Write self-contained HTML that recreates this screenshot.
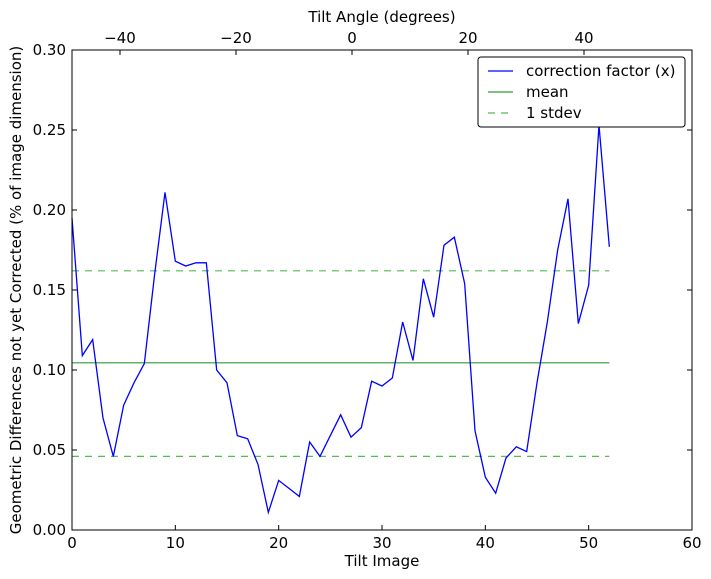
<!DOCTYPE html>
<html><head><meta charset="utf-8"><style>
body{margin:0;background:#fff}
svg{display:block;font-family:"DejaVu Sans","Liberation Sans",sans-serif}
</style></head><body>
<svg id="chart" width="711" height="579"></svg>
<script>
const xTicks=[0,10,20,30,40,50,60];
const yTicks=[0.00,0.05,0.10,0.15,0.20,0.25,0.30];
const topTicks=[-40,-20,0,20,40];
const values=[0.195,0.109,0.119,0.070,0.046,0.078,0.092,0.104,0.160,0.211,0.168,0.165,0.167,0.167,0.100,0.092,0.059,0.057,0.041,0.011,0.031,0.026,0.021,0.055,0.046,0.059,0.072,0.058,0.064,0.093,0.090,0.095,0.130,0.106,0.157,0.133,0.178,0.183,0.154,0.062,0.033,0.023,0.045,0.052,0.049,0.092,0.130,0.175,0.207,0.129,0.153,0.253,0.177];
const meanVal=[0.1045];
const stdevVals=[0.046,0.162];
const L=72,R=692,T=50,B=530;
const x=v=>L+(v-0)/60*(R-L);
const y=v=>B-(v/0.3)*(B-T);
const xa=d=>352+d*5.8;
const svg=document.getElementById('chart');
const NS='http://www.w3.org/2000/svg';
function mk(tag,attrs,txt){const e=document.createElementNS(NS,tag);for(const k in attrs)e.setAttribute(k,attrs[k]);if(txt!==undefined)e.textContent=txt;svg.appendChild(e);return e;}
let e;
e=mk('rect',{x:L,y:T,width:R-L,height:B-T,fill:'#fff',stroke:'none'});


stdevVals.forEach(v=>{e=mk('line',{x1:x(0),x2:x(values.length-1),y1:y(v),y2:y(v),stroke:'#55bb55','stroke-width':1.2,'stroke-dasharray':'7,6'});

});
e=mk('line',{x1:x(0),x2:x(values.length-1),y1:y(meanVal[0]),y2:y(meanVal[0]),stroke:'#339933','stroke-width':1.2});


e=mk('polyline',{points:values.map((v,i)=>x(i)+','+y(v)).join(' '),fill:'none',stroke:'#0000ff','stroke-width':1.3});


e=mk('rect',{x:L,y:T,width:R-L,height:B-T,fill:'none',stroke:'#000','stroke-width':1});


xTicks.forEach(t=>{const px=x(t);mk('line',{x1:px,x2:px,y1:B,y2:B-5,stroke:'#000'});
e=mk('text',{x:px,y:B+18,'font-size':15,'text-anchor':'middle'},String(t));

});
yTicks.forEach(t=>{const py=y(t);mk('line',{x1:L,x2:L+5,y1:py,y2:py,stroke:'#000'});mk('line',{x1:R,x2:R-5,y1:py,y2:py,stroke:'#000'});
e=mk('text',{x:L-6,y:py+5,'font-size':15,'text-anchor':'end'},t.toFixed(2));

});
topTicks.forEach(t=>{const px=xa(t);mk('line',{x1:px,x2:px,y1:T,y2:T+5,stroke:'#000'});
e=mk('text',{x:px,y:T-7,'font-size':15,'text-anchor':'middle'},String(t).replace('-','\u2212'));

});
e=mk('text',{x:382,y:566,'font-size':15,'text-anchor':'middle'},'Tilt Image');


e=mk('text',{x:382,y:22,'font-size':15,'text-anchor':'middle'},'Tilt Angle (degrees)');


e=mk('text',{x:21,y:290,'font-size':15,'text-anchor':'middle',transform:'rotate(-90 21 290)'},'Geometric Differences not yet Corrected (% of image dimension)');


e=mk('rect',{x:478,y:57,width:207,height:70,rx:3,fill:'#fff',stroke:'#000','stroke-width':1});


const leg=[['correction factor (x)','#0000ff',''],['mean','#339933',''],['1 stdev','#55bb55','7,6']];
leg.forEach((l,i)=>{const ly=71+i*21;
mk('line',{x1:488,x2:513,y1:ly,y2:ly,stroke:l[1],'stroke-width':1.2,'stroke-dasharray':l[2]||'none'});
e=mk('text',{x:526,y:ly+5,'font-size':15},l[0]);

});
</script>
</body></html>
